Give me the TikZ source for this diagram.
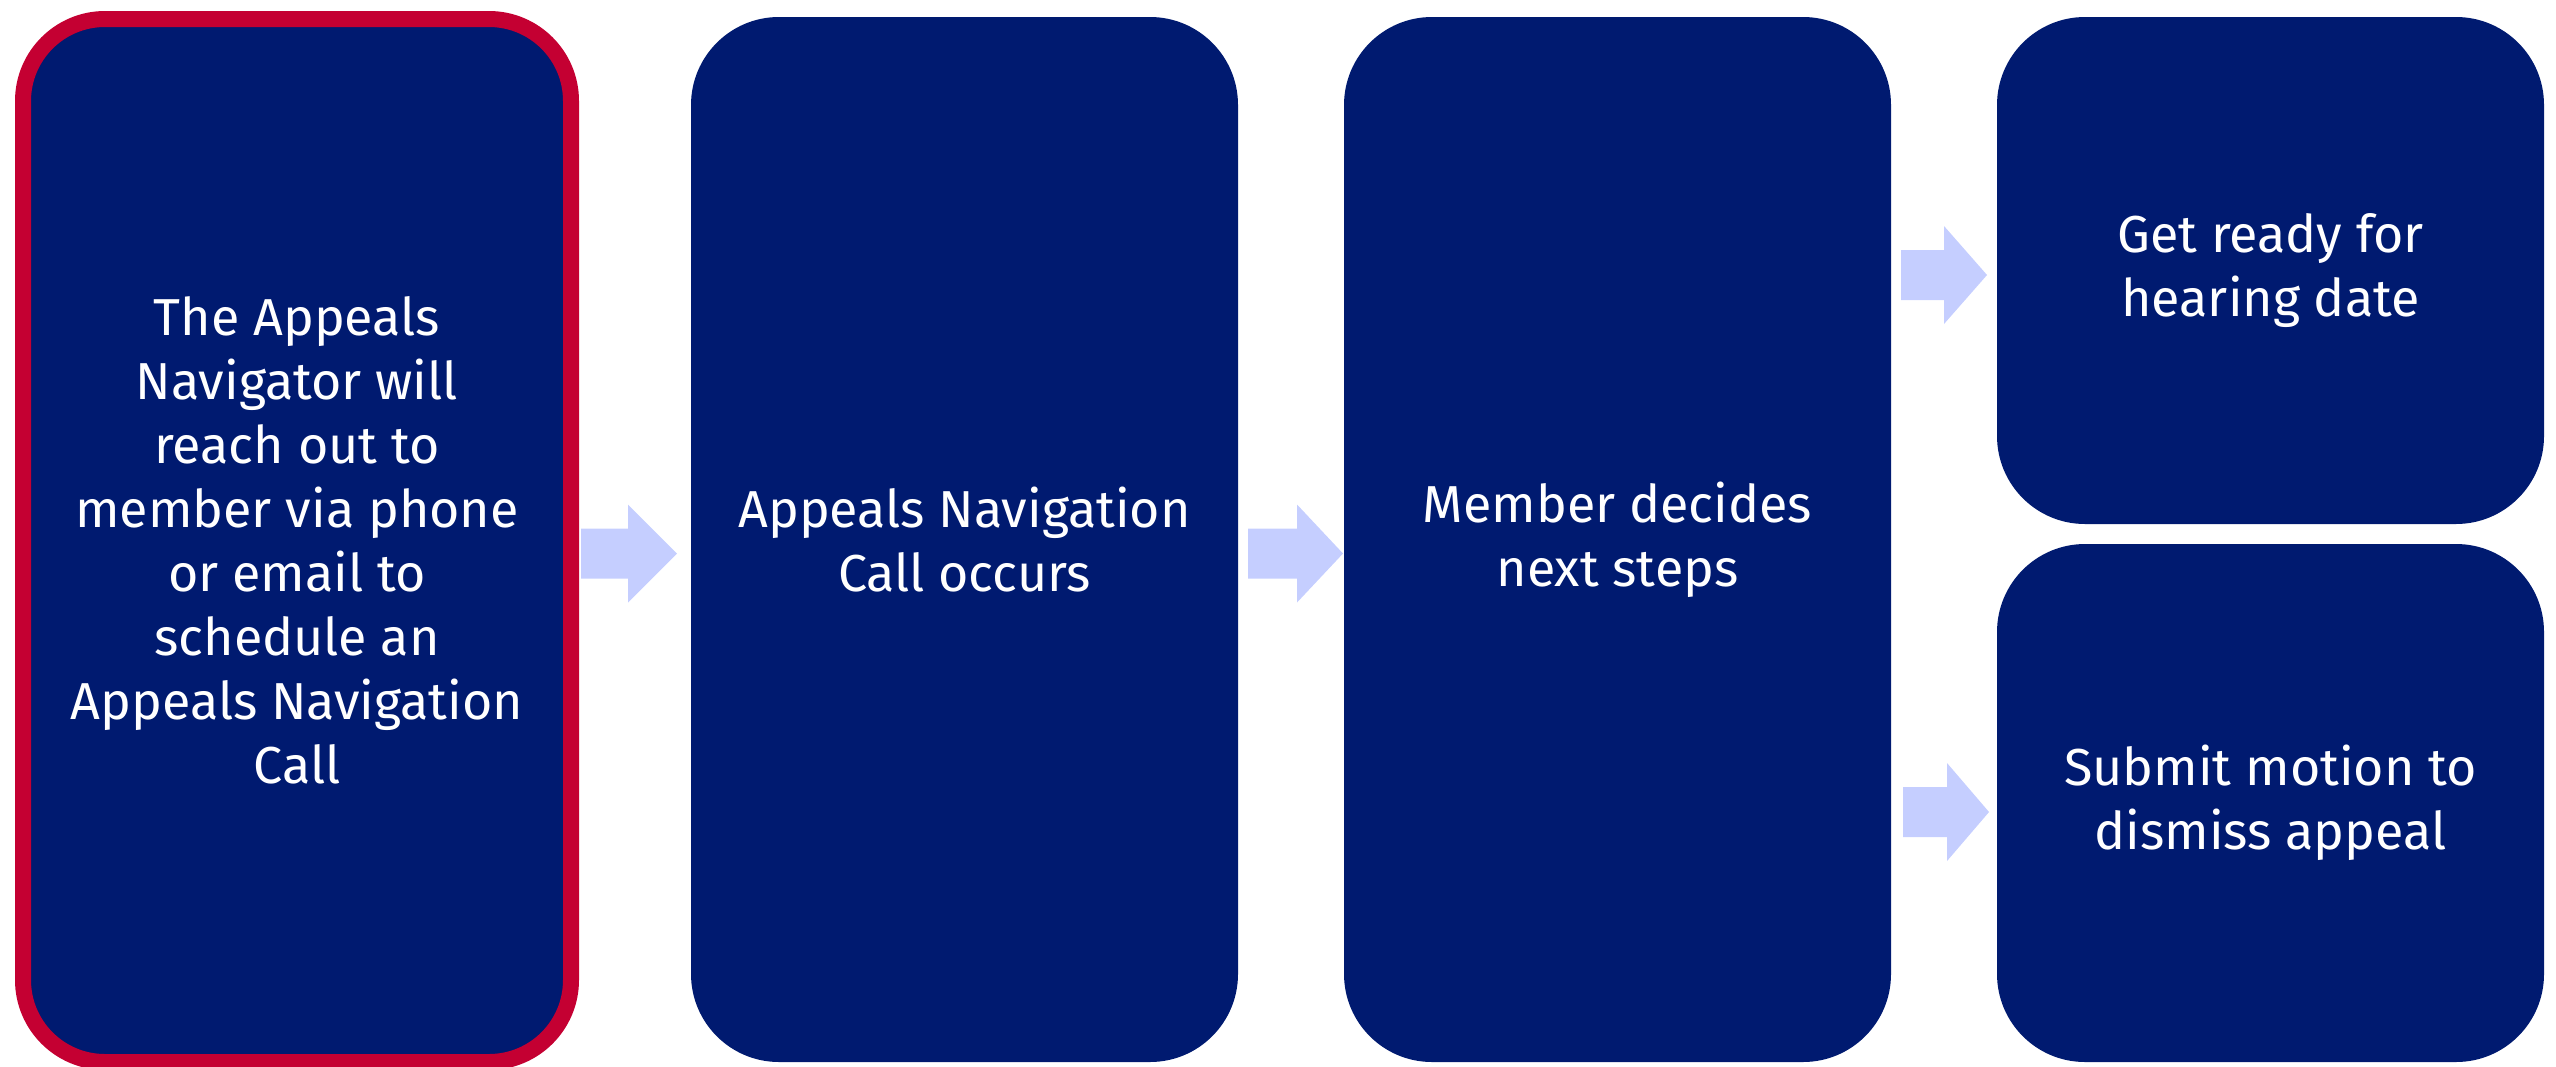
\documentclass[tikz,border=0pt]{standalone}
\usepackage{fontspec}
\setmainfont{Fira Sans}
\usetikzlibrary{calc}
\definecolor{navy}{HTML}{001A70}
\definecolor{redb}{HTML}{C40032}
\definecolor{arrowc}{HTML}{C5CEFF}
\tikzset{
  stepbox/.style={fill=navy, rounded corners=88pt, text=white, align=center,
    inner sep=0pt, outer sep=0pt,
    font=\fontsize{52}{64}\selectfont},
  pics/fatarrow/.style 2 args={code={
    \fill[arrowc] (0,0) -- (-#2,-49) -- (-#2,-25) -- (-#1,-25) -- (-#1,25) -- (-#2,25) -- (-#2,49) -- cycle;}}
}
\begin{document}
\begin{tikzpicture}[x=1pt,y=-1pt]
\useasboundingbox (0,0) rectangle (2556,1066);
\node[stepbox, draw=redb, line width=16pt, rounded corners=82pt,
  minimum width=548pt, minimum height=1043pt] (b1) at (297,540.5)
  {The Appeals\\Navigator will\\reach out to\\member via phone\\or email to\\schedule an\\Appeals Navigation\\Call};
\node[stepbox, minimum width=547pt, minimum height=1045pt] (b2) at (964.5,539.5)
  {Appeals Navigation\\Call occurs};
\node[stepbox, minimum width=547pt, minimum height=1045pt] (b3) at (1617.5,539.5)
  {Member decides\\next steps};
\node[stepbox, minimum width=547pt, minimum height=507pt] (b4) at (2270.5,270.5)
  {Get ready for\\hearing date};
\node[stepbox, minimum width=547pt, minimum height=518pt] (b5) at (2270.5,803)
  {Submit motion to\\dismiss appeal};
\pic at ($(b2.west)+(-14,14)$) {fatarrow={96}{49}};
\pic at ($(b3.west)+(-1,14)$) {fatarrow={95}{46}};
\pic at ($(b4.west)+(-10,4.5)$) {fatarrow={86}{43}};
\pic at ($(b5.west)+(-8,9)$) {fatarrow={86}{42}};
\end{tikzpicture}
\end{document}
